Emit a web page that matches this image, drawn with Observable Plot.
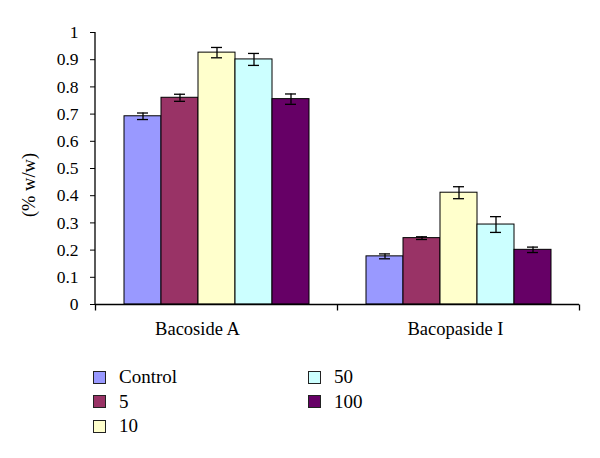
<!DOCTYPE html>
<html><head><meta charset="utf-8">
<script src="https://cdn.jsdelivr.net/npm/d3@7"></script>
<script src="https://cdn.jsdelivr.net/npm/@observablehq/plot@0.6"></script>
<style>
html,body{margin:0;background:#fff;overflow:hidden;}
body{font-family:"Liberation Serif","Times New Roman",serif;color:#000;}
#chart{width:600px;height:458px;position:relative;background:#fff;}
#chart svg{display:block;}
.legend{display:grid;grid-template-rows:repeat(3,24.5px);grid-auto-flow:column;grid-template-columns:215px 200px;padding-left:93px;padding-top:20px;font-size:19px;font-family:"Liberation Serif","Times New Roman",serif;}
.item{display:flex;align-items:center;}
.sw{width:11px;height:11px;border:1px solid #222;margin-right:13px;flex:none;}
</style></head><body><div id="chart"></div>
<script>
const groups = ["Bacoside A", "Bacopaside I"];
const series = ["Control", "5", "10", "50", "100"];
const colors = ["#9999FF", "#993366", "#FFFFCC", "#CCFFFF", "#660066"];
const bacosideA = [0.692, 0.760, 0.926, 0.901, 0.755];
const bacosideAErr = [0.012, 0.013, 0.019, 0.022, 0.019];
const bacopasideI = [0.177, 0.244, 0.411, 0.294, 0.201];
const bacopasideIErr = [0.009, 0.005, 0.022, 0.029, 0.010];
const yLabel = "(% w/w)";

const values = [bacosideA, bacopasideI];
const errors = [bacosideAErr, bacopasideIErr];
const rows = [];
groups.forEach((g, gi) => series.forEach((s, si) => rows.push({group: g, series: s, value: values[gi][si], err: errors[gi][si]})));

const tickMark = {draw(ctx) { ctx.moveTo(0, 0); ctx.lineTo(0, 6); }};

const chart = Plot.plot({
  width: 600, height: 345,
  marginLeft: 94, marginRight: 21, marginTop: 32, marginBottom: 41,
  style: {fontFamily: '"Liberation Serif", "Times New Roman", serif', fontSize: "18px", color: "#000", background: "#fff"},
  fx: {domain: groups, padding: 0, axis: "bottom", label: null, tickSize: 0, tickPadding: 17},
  x: {domain: series, paddingInner: 0, paddingOuter: 0.72, axis: null},
  y: {domain: [0, 1], ticks: 10, tickFormat: d => String(+d.toFixed(1)), tickSize: 5, tickPadding: 12, label: null},
  color: {domain: series, range: colors},
  marks: [
    Plot.barY(rows, {fx: "group", x: "series", y: "value", fill: "series", stroke: "#000", strokeWidth: 1}),
    Plot.ruleX(rows, {fx: "group", x: "series", y1: d => d.value - d.err, y2: d => d.value + d.err, stroke: "#000", strokeWidth: 1.3}),
    Plot.tickY(rows, {fx: "group", x: "series", y: d => d.value - d.err, insetLeft: 13, insetRight: 13, stroke: "#000", strokeWidth: 1.3}),
    Plot.tickY(rows, {fx: "group", x: "series", y: d => d.value + d.err, insetLeft: 13, insetRight: 13, stroke: "#000", strokeWidth: 1.3}),
    Plot.ruleY([0], {stroke: "#000", strokeWidth: 1.3}),
    Plot.dot(groups, {fx: d => d, frameAnchor: "bottom-left", symbol: tickMark, stroke: "#000", strokeWidth: 1.3}),
    Plot.dot([groups[groups.length - 1]], {fx: d => d, frameAnchor: "bottom-right", symbol: tickMark, stroke: "#000", strokeWidth: 1.3})
  ]
});

const svg = d3.select(chart);
svg.selectAll('g[aria-label="y-axis tick label"] text').style("font-size", "17.5px");
const labelShift = [-19, -3];
svg.selectAll('g[aria-label="fx-axis tick label"] text')
  .style("font-size", "18.5px")
  .attr("dx", (d, i) => labelShift[i]);
const fxs = chart.scale("fx"), ys = chart.scale("y");
svg.append("line")
  .attr("x1", fxs.apply(groups[0])).attr("x2", fxs.apply(groups[0]))
  .attr("y1", ys.apply(0)).attr("y2", ys.apply(1))
  .attr("stroke", "#000").attr("stroke-width", 1.3);
svg.append("text")
  .attr("transform", `translate(${fxs.apply(groups[0]) - 66},${(ys.apply(0) + ys.apply(1)) / 2 + 17}) rotate(-90)`)
  .attr("text-anchor", "middle").attr("dy", "0.35em")
  .style("font-size", "18.5px").attr("fill", "#000")
  .text(yLabel);

const root = document.getElementById("chart");
root.appendChild(chart);
const legend = document.createElement("div");
legend.className = "legend";
series.forEach((s, i) => {
  const item = document.createElement("div");
  item.className = "item";
  const sw = document.createElement("span");
  sw.className = "sw";
  sw.style.background = colors[i];
  const t = document.createElement("span");
  t.textContent = s;
  item.appendChild(sw); item.appendChild(t);
  legend.appendChild(item);
});
root.appendChild(legend);
</script></body></html>
